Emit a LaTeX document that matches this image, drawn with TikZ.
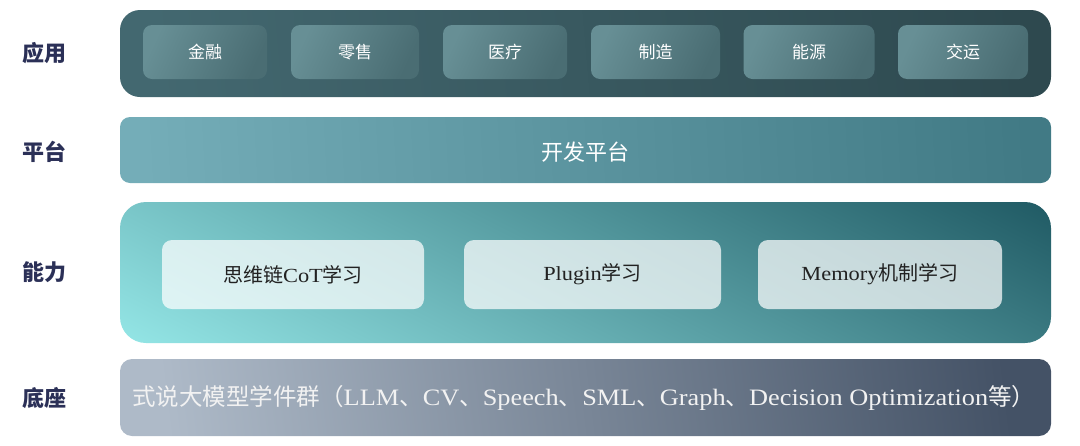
\documentclass[tikz,border=0pt]{standalone}
\usepackage{fontspec}
\setmainfont{Liberation Serif}[FakeStretch=1.12]
\newfontfamily\cjk{Noto Sans CJK SC}
\newcommand{\zh}[1]{{\cjk #1}}
\definecolor{lblcol}{HTML}{2B3057}
\definecolor{appL}{HTML}{436870}
\definecolor{appR}{HTML}{2E494F}
\definecolor{subL}{HTML}{678F95}
\definecolor{subR}{HTML}{4A6D73}
\definecolor{platL}{HTML}{74ADB8}
\definecolor{platR}{HTML}{417A85}
\definecolor{abiL}{HTML}{94E6E6}
\definecolor{abiR}{HTML}{205A64}
\definecolor{baseL}{HTML}{AEBAC8}
\definecolor{baseR}{HTML}{445266}
\definecolor{abitext}{HTML}{222222}
\pgfdeclarehorizontalshading{abish}{100bp}{color(0bp)=(abiL); color(36.3bp)=(abiL); color(63.7bp)=(abiR); color(100bp)=(abiR)}
\tikzset{
  band/.style={inner sep=0pt, outer sep=0pt},
  lbl/.style={font=\cjk\bfseries\fontsize{22}{24}\selectfont, text=lblcol, inner sep=0pt},
  appbox/.style={inner sep=0pt, minimum height=54pt, rounded corners=9pt,
    left color=subL, right color=subR, shading angle=65,
    text=white, font=\cjk\fontsize{17}{19}\selectfont},
  abibox/.style={inner sep=0pt, minimum height=69pt, rounded corners=10pt,
    fill=white, fill opacity=0.72, text opacity=1,
    text=abitext, font=\fontsize{20}{22}\selectfont},
}
\begin{document}
\begin{tikzpicture}[x=1pt,y=-1pt]
\useasboundingbox (0,0) rectangle (1080,445);
% bands
\node[band, minimum width=931pt, minimum height=87pt, rounded corners=20pt,
  left color=appL, right color=appR, shading angle=95] (app) at (585.5,53.5) {};
\node[band, minimum width=931pt, minimum height=66pt, rounded corners=10pt,
  left color=platL, right color=platR, shading angle=93] (plat) at (585.5,150) {};
\node[band, minimum width=931pt, minimum height=141pt] (abil) at (585.5,272.5) {};
\begin{scope}
  \clip[rounded corners=26pt] (abil.south west) rectangle (abil.north east);
  \shade[shading=abish, shading angle=63, shift={(abil.center)}] (-500,-500) rectangle (500,500);
\end{scope}
\node[band, minimum width=931pt, minimum height=77pt, rounded corners=12pt,
  left color=baseL, right color=baseR, shading angle=97] (base) at (585.5,397.5) {};
% left labels
\node[lbl] (l1) at (45,53) {应用};
\node[lbl] (l2) at (45,152) {平台};
\node[lbl] (l3) at (45,272) {能力};
\node[lbl] (l4) at (45,398) {底座};
% application boxes
\node[appbox, minimum width=124pt] (a1) at (205,52) {金融};
\node[appbox, minimum width=128pt] (a2) at (355,52) {零售};
\node[appbox, minimum width=124pt] (a3) at (505,52) {医疗};
\node[appbox, minimum width=129pt] (a4) at (655.5,52) {制造};
\node[appbox, minimum width=131pt] (a5) at (809,52) {能源};
\node[appbox, minimum width=130pt] (a6) at (963,52) {交运};
% platform text
\node[text=white, font=\cjk\fontsize{22}{24}\selectfont, inner sep=0pt] (ptxt) at (585,152) {开发平台};
% ability boxes
\node[abibox, minimum width=262pt] (b1) at (293,274.5) {\zh{思维链}CoT\zh{学习}};
\node[abibox, minimum width=257pt] (b2) at (592.5,274.5) {Plugin\zh{学习}};
\node[abibox, minimum width=244pt] (b3) at (880,274.5) {Memory\zh{机制学习}};
% base text
\node[anchor=west, text=white!95!black, font=\fontsize{23.5}{25}\selectfont, inner sep=0pt] (btxt) at (132,398)
  {\zh{式说大模型学件群（}LLM\zh{、}CV\zh{、}Speech\zh{、}SML\zh{、}Graph\zh{、}Decision Optimization\zh{等）}};
\end{tikzpicture}
\end{document}
